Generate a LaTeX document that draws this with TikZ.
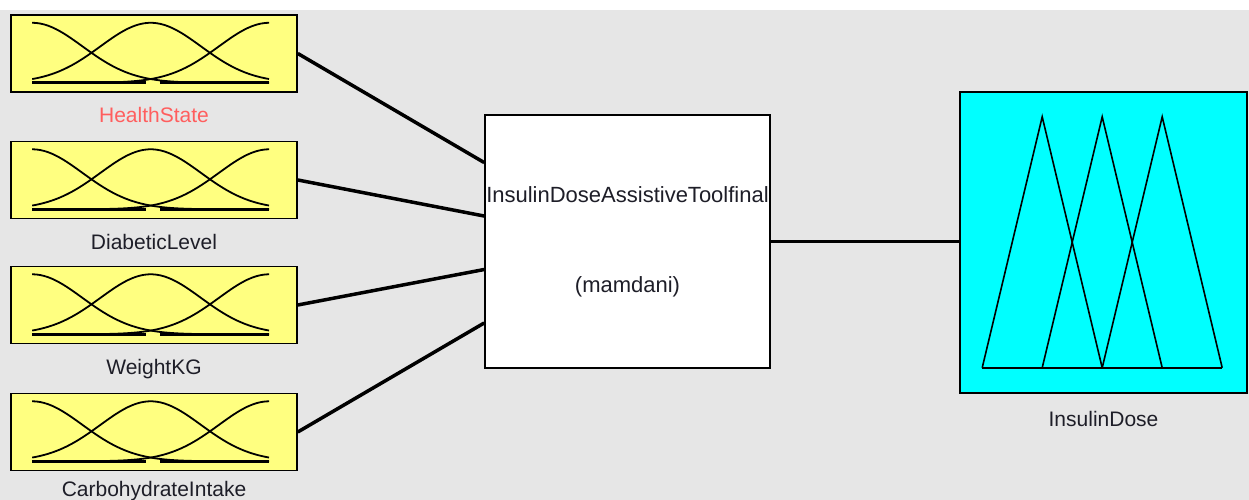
\documentclass[tikz,border=0pt]{standalone}
\usepackage{fontspec}
\setmainfont{Liberation Sans}
\usetikzlibrary{calc,positioning}
\definecolor{bggray}{HTML}{E6E6E6}
\definecolor{mfyellow}{HTML}{FFFF80}
\definecolor{mfcyan}{HTML}{00FFFF}
\definecolor{hsred}{HTML}{FF5E5E}
\definecolor{lbltext}{HTML}{1E1E28}

\begin{document}
\begin{tikzpicture}[x=1pt,y=1pt,node distance=15pt]
  \tikzstyle{inbox}=[draw,line width=1.6pt,fill=mfyellow,minimum width=286pt,minimum height=77pt,inner sep=0pt]
  \tikzstyle{varname}=[inner sep=0pt,text height=15pt,text depth=0pt,text=lbltext,font=\fontsize{21}{25}\selectfont]
  \tikzstyle{wire}=[line width=3.5pt]
  \tikzstyle{mfline}=[line width=1.8pt]

  \useasboundingbox (0,0) rectangle (1249,500);
  \fill[white] (0,0) rectangle (1249,500);
  \fill[bggray] (0,0) rectangle (1249,490);

  \node[inbox] (hs) at (154,446.5) {};
  \node[inbox] (dl) at (154,320)   {};
  \node[inbox] (wk) at (154,195)   {};
  \node[inbox] (ci) at (154,68)    {};
  \node[draw,line width=1.6pt,fill=white,minimum width=285pt,minimum height=253pt,inner sep=0pt,
        align=center,text=lbltext,font=\fontsize{22}{26}\selectfont] (fis) at (627.5,258.5)
        {InsulinDoseAssistiveToolfinal\\[64pt](mamdani)};
  \node[draw,line width=1.6pt,fill=mfcyan,minimum width=287pt,minimum height=301pt,inner sep=0pt] (dose) at (1103.5,257.5) {};

  \node[varname,text=hsred] (hsl)   [below=15pt of hs]   {HealthState};
  \node[varname]            (dll)   [below=15pt of dl]   {DiabeticLevel};
  \node[varname]            (wkl)   [below=15pt of wk]   {WeightKG};
  \node[varname]            (cil)   [below=10pt of ci]   {CarbohydrateIntake};
  \node[varname]            (dosel) [below=18pt of dose] {InsulinDose};

  % gaussian membership functions
  \foreach \v in {hs,dl,wk,ci} {
    \begin{scope}[shift={($(\v.south west)+(22,10)$)},xscale=237,yscale=60]
      \draw[line width=2.8pt] (0,0) -- (0.48,0) (0.54,0) -- (1,0);
      \foreach \c in {0,0.5,1}
        \draw[mfline] plot[domain=0:1,samples=60,smooth] (\x,{exp(-((\x-\c)^2)/0.0901)});
    \end{scope}
  }

  % triangular membership functions
  \begin{scope}[shift={($(dose.south west)+(23,26)$)},xscale=240,yscale=251]
    \draw[line width=1.6pt] (0,0) -- (1,0);
    \foreach \c in {0.25,0.5,0.75}
      \draw[line width=1.6pt] ({\c-0.25},0) -- (\c,1) -- ({\c+0.25},0);
  \end{scope}

  \foreach \i/\f in {1/0.19,2/0.4,3/0.61,4/0.82}
    \coordinate (fisin\i) at ($(fis.north west)!\f!(fis.south west)$);

  \path[wire] (hs.east) edge (fisin1)
              (dl.east) edge (fisin2)
              (wk.east) edge (fisin3)
              (ci.east) edge (fisin4)
              (fis.east) edge (fis.east -| dose.west);
\end{tikzpicture}
\end{document}
